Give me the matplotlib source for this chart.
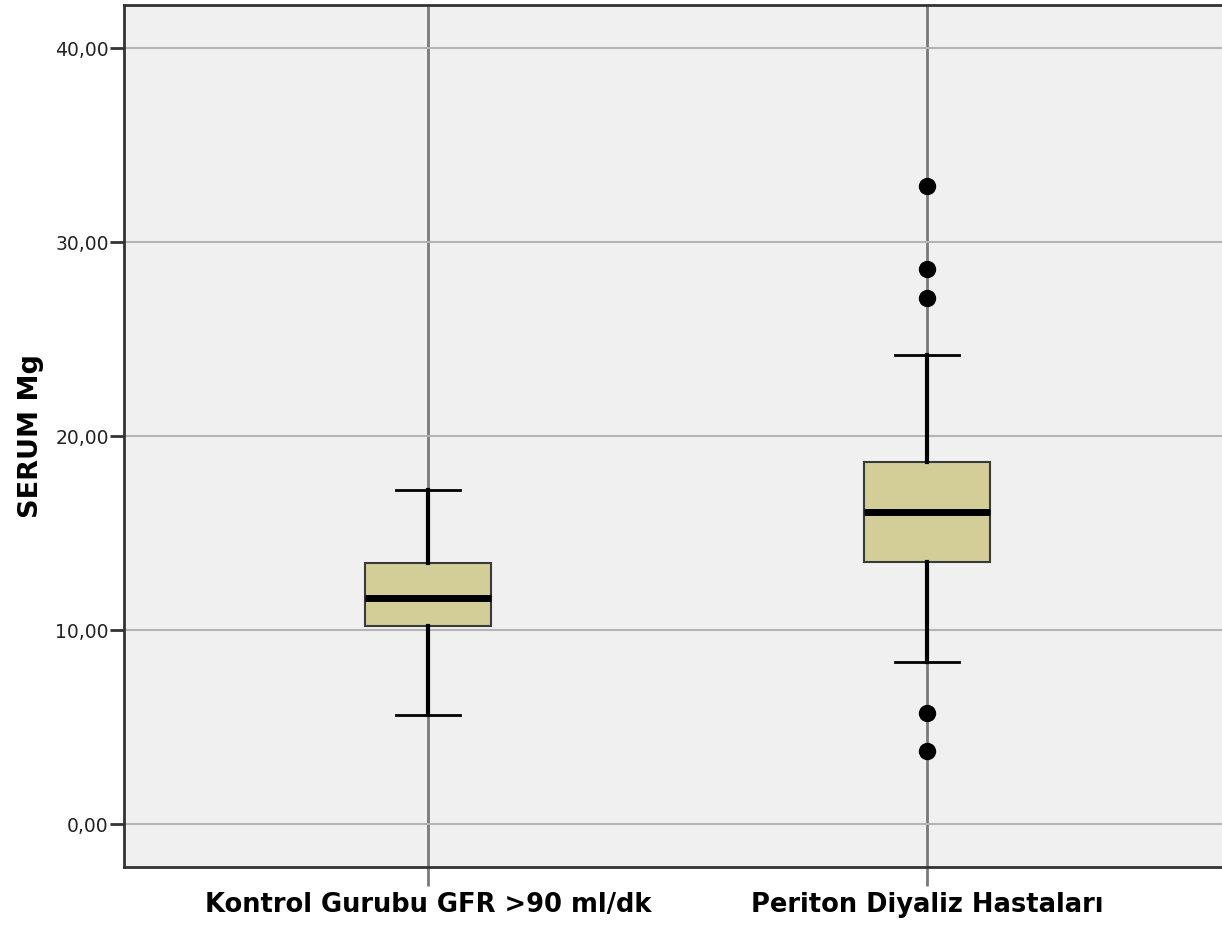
import matplotlib.pyplot as plt

# values
groups = ['Kontrol Gurubu GFR >90 ml/dk', 'Periton Diyaliz Hastaları']
q1 = [10.2, 13.5]
median = [11.65, 16.08]
q3 = [13.45, 18.66]
whisker_low = [5.6, 8.35]
whisker_high = [17.2, 24.2]
outliers = [[], [32.9, 28.6, 27.1, 5.7, 3.76]]
yticks = [0, 10, 20, 30, 40]
ytick_labels = ['0,00', '10,00', '20,00', '30,00', '40,00']

stats = []
for i, g in enumerate(groups):
    stats.append({'label': g, 'q1': q1[i], 'med': median[i], 'q3': q3[i],
                  'whislo': whisker_low[i], 'whishi': whisker_high[i],
                  'fliers': outliers[i]})

fig = plt.figure(figsize=(12.22, 9.27), dpi=100)
ax = fig.add_axes([124 / 1222, 60 / 927, 1107 / 1222, 862 / 927])
ax.set_facecolor('#f0f0f0')

positions = list(range(len(groups)))
for p in positions:
    ax.axvline(p, color='#7a7a7a', lw=2, zorder=1)
for t in yticks:
    ax.axhline(t, color='#b4b4b4', lw=1.5, zorder=1)

ax.bxp(stats, positions=positions, widths=0.254, patch_artist=True,
       boxprops=dict(facecolor='#d3ce97', edgecolor='#3a3a3a', lw=1.5),
       medianprops=dict(color='black', lw=5, solid_capstyle='butt'),
       whiskerprops=dict(color='black', lw=3),
       capprops=dict(color='black', lw=2),
       capwidths=0.128,
       flierprops=dict(marker='o', markerfacecolor='black', markeredgecolor='black', markersize=11.5),
       zorder=3)

ax.set_xlim(-0.609, 1.609)
ax.set_ylim(-2.216, 42.22)
ax.set_yticks(yticks)
ax.set_yticklabels(ytick_labels, fontsize=13.5, color='#222222')
ax.set_xticks(positions)
ax.set_xticklabels(groups, fontsize=18.5, fontweight='bold')
ax.tick_params(axis='x', length=14, width=2, color='#7a7a7a', pad=4)
ax.tick_params(axis='y', length=10, width=2, color='#333333', pad=1)
ax.set_ylabel('SERUM Mg', fontsize=19.5, fontweight='bold', labelpad=8)

for s in ax.spines.values():
    s.set_color('#333333')
    s.set_linewidth(2)

fig.savefig('out.png', dpi=100)
